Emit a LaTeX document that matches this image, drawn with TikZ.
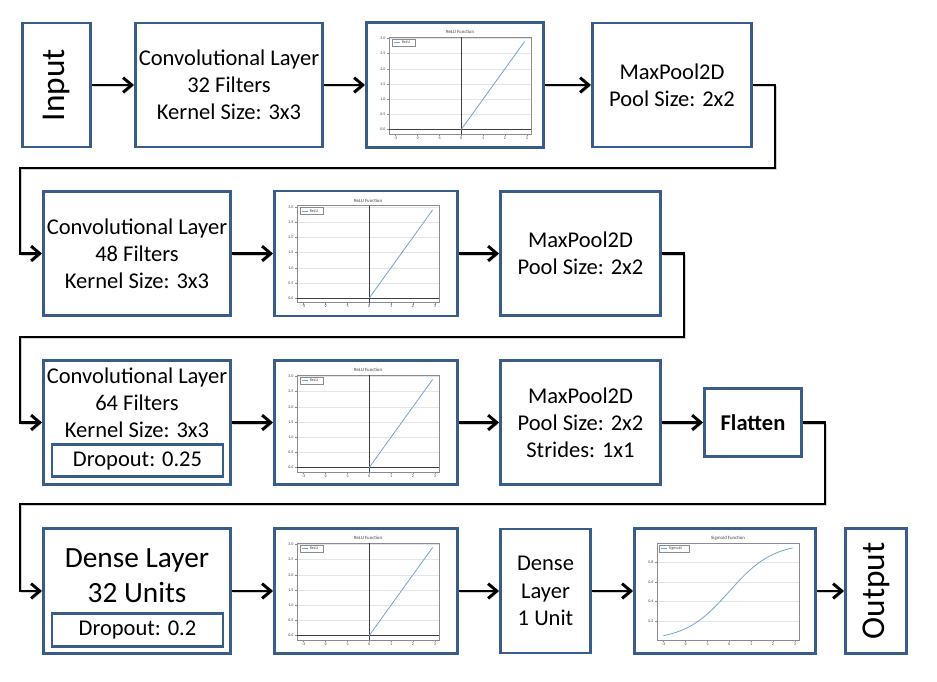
\documentclass[tikz,border=0pt]{standalone}
\usepackage{fontspec}
\setmainfont{Carlito}
\usetikzlibrary{arrows.meta}
\definecolor{boxblue}{RGB}{56,93,138}
\definecolor{plotblue}{RGB}{110,165,215}

\begin{document}
\begin{tikzpicture}[x=0.75pt,y=0.75pt,yscale=-1,xscale=1,
	layer/.style={draw=boxblue, line width=2.2pt, fill=white, align=center, inner sep=0pt, font=\fontsize{16.9}{20.4}\selectfont},
	boxsize/.style 2 args={minimum width=#1*0.75pt, minimum height=#2*0.75pt},
	flow/.style={line width=2.2pt, -{Straight Barb[length=6.5pt,width=11pt]},
		preaction={draw=black!18, transform canvas={shift={(0.9pt,-1.1pt)}}}},
	tick/.style={font=\fontsize{3}{3}\selectfont, inner sep=0.4pt, text=black!75},
	frameline/.style={draw=black!45, line width=0.35pt},
	gridline/.style={draw=black!10, line width=0.3pt},
	zeroline/.style={draw=black!75, line width=0.6pt},
	curve/.style={draw=plotblue, line width=0.6pt},
]
	\useasboundingbox (0,0) rectangle (937,681);

	% Row 1
	\node [layer, boxsize={68}{124}, font=\fontsize{25}{30}\selectfont] (inp) at (56.5,85) {\rotatebox{90}{Input}};
	\node [layer, boxsize={187}{124}] (conv1) at (229,85) {Convolutional Layer\\32 Filters\\Kernel Size: 3x3};
	\node [layer, boxsize={177}{125}] (relu1) at (455,85) {};
	\node [layer, boxsize={159}{124}] (pool1) at (672,85) {MaxPool2D\\Pool Size: 2x2};
	% Row 2
	\node [layer, boxsize={187}{124}] (conv2) at (137,253.5) {Convolutional Layer\\48 Filters\\Kernel Size: 3x3};
	\node [layer, boxsize={183}{125}] (relu2) at (366,253.5) {};
	\node [layer, boxsize={160}{124}] (pool2) at (580.5,253.5) {MaxPool2D\\Pool Size: 2x2};
	% Row 3
	\node [layer, boxsize={187}{124}] (conv3) at (137,422.5) {};
	\node [align=center, inner sep=0pt, font=\fontsize{16.9}{20.4}\selectfont] (conv3txt) at (137,403) {Convolutional Layer\\64 Filters\\Kernel Size: 3x3};
	\node [layer, boxsize={171}{32}] (drop1) at (137.5,460.5) {Dropout: 0.25};
	\node [layer, boxsize={183}{124}] (relu3) at (366,422.5) {};
	\node [layer, boxsize={160}{124}] (pool3) at (580.5,422.5) {MaxPool2D\\Pool Size: 2x2\\Strides: 1x1};
	\node [layer, boxsize={97}{68}, font=\fontsize{16.9}{20.4}\selectfont\bfseries] (flat) at (753,422.5) {Flatten};
	% Row 4
	\node [layer, boxsize={187}{125}] (dense) at (137,591) {};
	\node [align=center, inner sep=0pt, font=\fontsize{22}{26.5}\selectfont] (densetxt) at (137,575.5) {Dense Layer\\32 Units};
	\node [layer, boxsize={171}{33}] (drop2) at (137.5,630) {Dropout: 0.2};
	\node [layer, boxsize={183}{125}] (relu4) at (366,591) {};
	\node [layer, boxsize={90}{124}] (dense1) at (545.5,591) {Dense\\Layer\\1 Unit};
	\node [layer, boxsize={181}{125}] (sig) at (725,591) {};
	\node [layer, boxsize={61}{125}, font=\fontsize{25}{30}\selectfont] (out) at (876,591) {\rotatebox{90}{Output}};

	% ReLU plots
	\foreach \p in {relu1,relu2,relu3,relu4}{
		\begin{scope}[shift={(\p.north west)}]
			\node [tick, font=\fontsize{3.6}{4}\selectfont] at (95,11) {ReLU Function};
			\begin{scope}[shift={(96.1,108.6)}, xscale=21.88, yscale=-30.4]
				\foreach \v in {0.5,1,1.5,2,2.5,3}
					\draw [gridline] (-3.295,\v) -- (3.195,\v);
				\draw [frameline] (-3.295,-0.145) rectangle (3.195,3.045);
				\foreach \v in {-3,-2,-1,0,1,2,3}{
					\draw [frameline] (\v,-0.145) -- ++(0,-0.07);
					\node [tick, anchor=north] at (\v,-0.2) {\v};
				}
				\foreach \v/\t in {0/0.0,0.5/0.5,1/1.0,1.5/1.5,2/2.0,2.5/2.5,3/3.0}{
					\draw [frameline] (-3.295,\v) -- ++(-0.1,0);
					\node [tick, anchor=east] at (-3.42,\v) {\t};
				}
				\draw [zeroline] (-3.295,0) -- (3.195,0);
				\draw [zeroline] (0,-0.145) -- (0,3.045);
				\draw [curve] (0,0) -- (2.9,2.9);
			\end{scope}
			\draw [frameline, line width=0.25pt] (27,18) rectangle (50,25);
			\draw [curve] (29,21.5) -- (35,21.5);
			\node [tick, anchor=west] at (36,21.5) {ReLU};
		\end{scope}
	}

	% Sigmoid plot
	\begin{scope}[shift={(sig.north west)}]
		\node [tick, font=\fontsize{3.6}{4}\selectfont] at (95,11) {Sigmoid Function};
		\begin{scope}[shift={(96.1,113.2)}, xscale=21.88, yscale=-97.4]
			\foreach \v in {0.2,0.4,0.6,0.8}{
				\draw [gridline] (-3.295,\v) -- (3.195,\v);
				\draw [frameline] (-3.295,\v) -- ++(-0.1,0);
				\node [tick, anchor=east] at (-3.42,\v) {\v};
			}
			\draw [frameline] (-3.295,0.002) rectangle (3.195,0.998);
			\foreach \v in {-3,-2,-1,0,1,2,3}{
				\draw [frameline] (\v,0.002) -- ++(0,-0.02);
				\node [tick, anchor=north] at (\v,-0.015) {\v};
			}
			\draw [curve] plot [domain=-3:2.9, samples=50, smooth] (\x,{1/(1+exp(-\x))});
		\end{scope}
		\draw [frameline, line width=0.25pt] (26,18) rectangle (56,25);
		\draw [curve] (28,21.5) -- (34,21.5);
		\node [tick, anchor=west] at (35,21.5) {Sigmoid};
	\end{scope}

	% Bends
	\coordinate (b1a) at (775,168);
	\coordinate (b1b) at (20,168);
	\coordinate (b2a) at (684,337);
	\coordinate (b2b) at (20,337);
	\coordinate (b3a) at (825,504);
	\coordinate (b3b) at (20,504);

	% Connectors
	\draw [flow] (inp) -- (conv1);
	\draw [flow] (conv1) -- (relu1);
	\draw [flow] (relu1) -- (pool1);
	\draw [flow] (pool1.east) -| (b1a) -- (b1b) |- (conv2.west);
	\draw [flow] (conv2) -- (relu2);
	\draw [flow] (relu2) -- (pool2);
	\draw [flow] (pool2.east) -| (b2a) -- (b2b) |- (conv3.west);
	\draw [flow] (conv3) -- (relu3);
	\draw [flow] (relu3) -- (pool3);
	\draw [flow] (pool3) -- (flat);
	\draw [flow] (flat.east) -| (b3a) -- (b3b) |- (dense.west);
	\draw [flow] (dense) -- (relu4);
	\draw [flow] (relu4) -- (dense1);
	\draw [flow] (dense1) -- (sig);
	\draw [flow] (sig) -- (out);

\end{tikzpicture}
\end{document}
